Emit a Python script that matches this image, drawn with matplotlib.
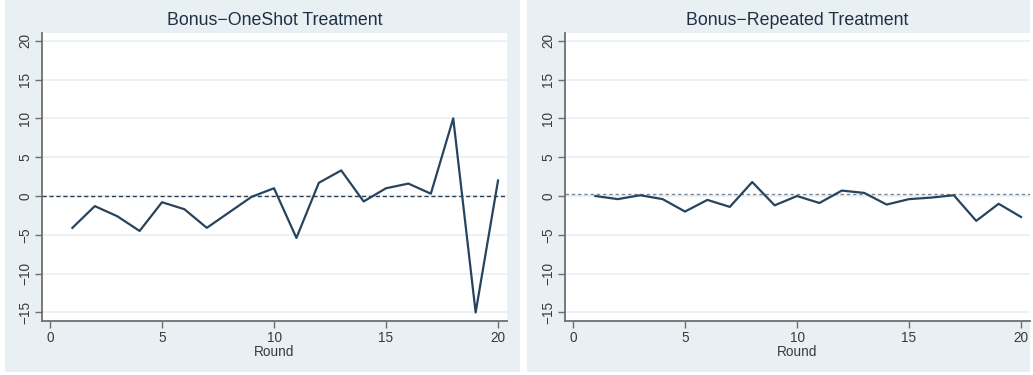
import matplotlib
matplotlib.use("Agg")
import matplotlib.pyplot as plt
from matplotlib.patches import Rectangle

plt.rcParams['font.family'] = ['Liberation Sans', 'DejaVu Sans']

rounds = list(range(1, 21))
oneshot = [-4.1, -1.3, -2.6, -4.5, -0.8, -1.7, -4.1, -2.1, -0.1, 1.0,
           -5.4, 1.7, 3.3, -0.7, 1.0, 1.6, 0.3, 10.0, -15.0, 2.0]
repeated = [0.0, -0.4, 0.1, -0.4, -2.0, -0.5, -1.4, 1.8, -1.2, 0.0,
            -0.9, 0.7, 0.4, -1.1, -0.4, -0.2, 0.1, -3.2, -1.0, -2.7]
titles = ["Bonus\u2212OneShot Treatment", "Bonus\u2212Repeated Treatment"]
ref_levels = [0.0, 0.2]
ref_colors = ["#2b3f55", "#7d8a9c"]
xticks = [0, 5, 10, 15, 20]
yticks = [-15, -10, -5, 0, 5, 10, 15, 20]
ytick_labels = ["\u221215", "\u221210", "\u22125", "0", "5", "10", "15", "20"]

W, H = 1033, 375
fig = plt.figure(figsize=(W / 100, H / 100), dpi=100, facecolor="white")

bg = "#e8f0f3"
# panel backgrounds (pixel boxes: x0, x1), drawn beneath the axes
for x0, x1 in [(5, 520), (527, 1030)]:
    fig.patches.append(Rectangle((x0 / W, 1 - 372 / H), (x1 - x0) / W, 372 / H,
                                 transform=fig.transFigure, facecolor=bg,
                                 edgecolor="none", zorder=-10))

line_color = "#27445f"
grid_color = "#eaf1f3"
axis_color = "#6e6e6e"
text_color = "#3a3a3a"

for i, (vals, title, lvl, rc) in enumerate(zip([oneshot, repeated], titles, ref_levels, ref_colors)):
    left_px = 42 if i == 0 else 565
    ax = fig.add_axes([left_px / W, 1 - 321 / H, 465 / W, 288 / H])
    ax.set_zorder(1)
    ax.set_facecolor("white")
    ax.set_xlim(-0.357, 20.4)
    ax.set_ylim(-16.1, 21.0)
    for s in ["top", "right"]:
        ax.spines[s].set_visible(False)
    for s in ["left", "bottom"]:
        ax.spines[s].set_color(axis_color)
        ax.spines[s].set_linewidth(1.3)
    ax.set_yticks(yticks)
    ax.set_yticklabels(ytick_labels, rotation=90, va="center")
    ax.set_xticks(xticks)
    ax.tick_params(axis="both", direction="out", length=5, width=1.0,
                   color=axis_color, labelcolor=text_color, labelsize=9.8, pad=2)
    for y in yticks:
        ax.axhline(y, color=grid_color, lw=1.3, zorder=1)
    ax.axhline(lvl, color=rc, lw=1.0, ls=(0, (3, 2)) if i == 0 else (0, (2.5, 2)), zorder=2)
    ax.plot(rounds, vals, color=line_color, lw=1.6, zorder=3)
    ax.set_xlabel("Round", fontsize=9.8, color=text_color, labelpad=0)
    ax.set_title(title, fontsize=12.8, color="#1f2f44", pad=6)

fig.savefig("out.png", dpi=100, facecolor="white")
